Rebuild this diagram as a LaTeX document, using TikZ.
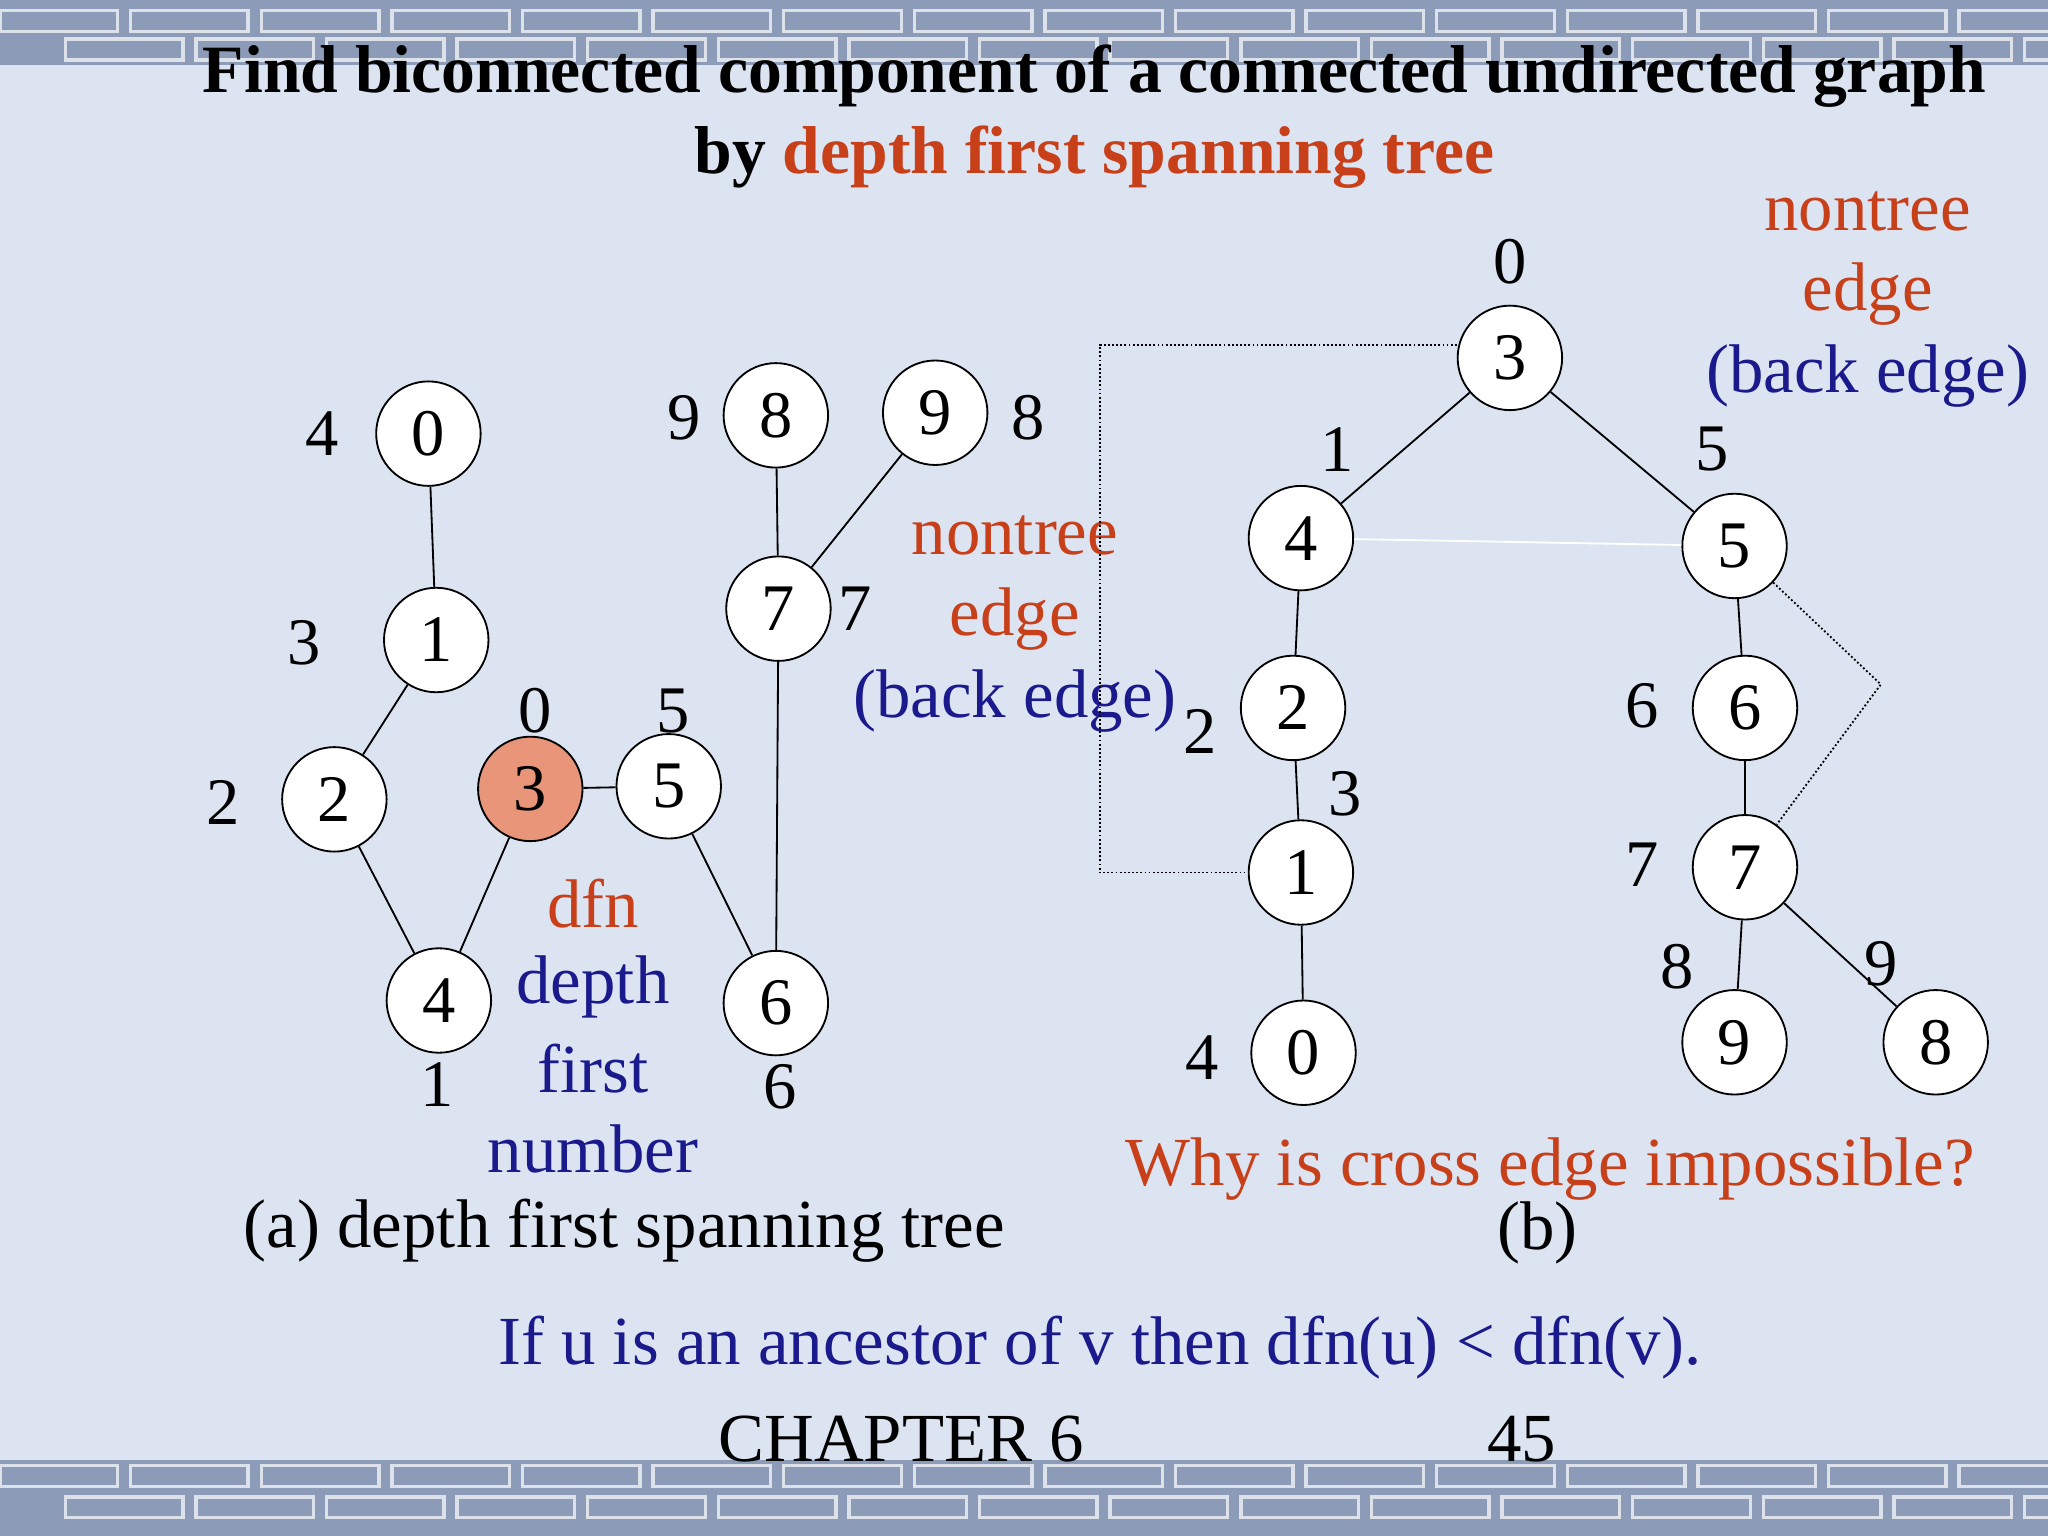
\documentclass[tikz,border=0pt]{standalone}
\usepackage{fontspec}
\setmainfont{Liberation Serif}
\definecolor{rd}{HTML}{C8401A}
\definecolor{bl}{HTML}{1A1A8C}
\definecolor{bg}{HTML}{DCE4F2}
\definecolor{band}{HTML}{8C9CB8}
\definecolor{fillc}{HTML}{E8957A}
\begin{document}
\begin{tikzpicture}[x=0.02cm,y=-0.02cm,
  vtx/.style={circle,draw,thick,fill=white,minimum size=1.6cm,inner sep=0pt,font=\fontsize{29}{29}\selectfont},
  lbl/.style={font=\fontsize{29}{29}\selectfont},
  txt/.style={font=\fontsize{30}{32}\selectfont},
  tedge/.style={thick},
  dedge/.style={densely dotted,thick}]
\useasboundingbox (0,0) rectangle (1568,1176);
\begin{scope}
\clip (0,0) rectangle (1568,1176);
\fill[bg] (0,0) rectangle (1568,1176);
\fill[band] (0,0) rectangle (1568,50);
\fill[band] (0,1118) rectangle (1568,1176);
\foreach \x in {0,100,...,1500}{
  \draw[white!70!band,line width=1.5pt] (\x,8) rectangle ++(90,16);
  \draw[white!70!band,line width=1.5pt] (\x+50,30) rectangle ++(90,16);
  \draw[white!70!band,line width=1.5pt] (\x,1122) rectangle ++(90,16);
  \draw[white!70!band,line width=1.5pt] (\x+50,1146) rectangle ++(90,16);
}
\end{scope}
% title
\node[font=\fontsize{29.5}{29.5}\selectfont\bfseries] (t1) at (838,58) {Find biconnected component of a connected undirected graph};
\node[font=\fontsize{29.5}{29.5}\selectfont\bfseries] (t2) at (838,120) {by \textcolor{rd}{depth first spanning tree}};
% (a)
\node[vtx] (a0) at (328,332) {0};
\node[vtx] (a1) at (334,490) {1};
\node[vtx] (a2) at (256,612) {2};
\node[vtx,fill=fillc] (a3) at (406,604) {3};
\node[vtx] (a5) at (512,602) {5};
\node[vtx] (a4) at (336,766) {4};
\node[vtx] (a6) at (594,768) {6};
\node[vtx] (a7) at (596,466) {7};
\node[vtx] (a8) at (594,318) {8};
\node[vtx] (a9) at (716,316) {9};
\draw[tedge] (a0)--(a1) (a1)--(a2) (a2)--(a4) (a4)--(a3) (a3)--(a5) (a5)--(a6) (a6)--(a7) (a7)--(a8) (a7)--(a9);
\node[lbl] (la0) at (247,332) {4};
\node[lbl] (la1) at (233,492) {3};
\node[lbl] (la2) at (171,614) {2};
\node[lbl] (la3) at (410,544) {0};
\node[lbl] (la5) at (515,544) {5};
\node[lbl] (la4) at (335,830) {1};
\node[lbl] (la6) at (597,832) {6};
\node[lbl] (la7) at (655,466) {7};
\node[lbl] (la8) at (524,320) {9};
\node[lbl] (la9) at (787,320) {8};
\node[txt,text=rd] (n1) at (777,410) {nontree};
\node[txt,text=rd] (n2) at (777,474) {edge};
\node[txt,text=bl] (n3) at (777,537) {(back edge)};
\node[txt,text=rd] (d1) at (454,692) {dfn};
\node[txt,text=bl] (d2) at (454,756) {depth};
\node[txt,text=bl] (d3) at (454,818) {first};
\node[txt,text=bl] (d4) at (454,880) {number};
\node[txt] (capa) at (478,942) {(a) depth first spanning tree};
% (b)
\node[vtx] (b3) at (1156,274) {3};
\node[vtx] (b4) at (996,412) {4};
\node[vtx] (b5) at (1328,418) {5};
\node[vtx] (b2) at (990,542) {2};
\node[vtx] (b1) at (996,668) {1};
\node[vtx] (b0) at (998,806) {0};
\node[vtx] (b6) at (1336,542) {6};
\node[vtx] (b7) at (1336,664) {7};
\node[vtx] (b9) at (1328,798) {9};
\node[vtx] (b8) at (1482,798) {8};
\draw[white,thick] (b4)--(b5);
\draw[tedge] (b3)--(b4) (b3)--(b5) (b4)--(b2) (b2)--(b1) (b1)--(b0) (b5)--(b6) (b6)--(b7) (b7)--(b9) (b7)--(b8);
\coordinate (c1) at (842,264);
\coordinate (c2) at (842,668);
\coordinate (c3) at (1440,524);
\draw[dedge] (b3.west|-c1)--(c1)--(c2)--(b1.west);
\draw[dedge] (b5)--(c3)--(b7);
\node[lbl] (lb3) at (1156,200) {0};
\node[lbl] (lb4) at (1024,344) {1};
\node[lbl] (lb5) at (1311,344) {5};
\node[lbl] (lb2) at (919,560) {2};
\node[lbl] (lb1) at (1030,608) {3};
\node[lbl] (lb0) at (920,810) {4};
\node[lbl] (lb6) at (1257,540) {6};
\node[lbl] (lb7) at (1257,662) {7};
\node[lbl] (lb9) at (1284,740) {8};
\node[lbl] (lb8) at (1440,738) {9};
\node[txt,text=rd] (m1) at (1430,162) {nontree};
\node[txt,text=rd] (m2) at (1430,225) {edge};
\node[txt,text=bl] (m3) at (1430,288) {(back edge)};
\node[txt,text=rd] (why) at (1187,895) {Why is cross edge impossible?};
\node[txt] (capb) at (1177,944) {(b)};
\node[txt,text=bl] (rule) at (842,1032) {If u is an ancestor of v then dfn(u) < dfn(v).};
\node[txt] (ch) at (690,1102) {CHAPTER 6};
\node[txt] (pg) at (1165,1102) {45};
\end{tikzpicture}
\end{document}
